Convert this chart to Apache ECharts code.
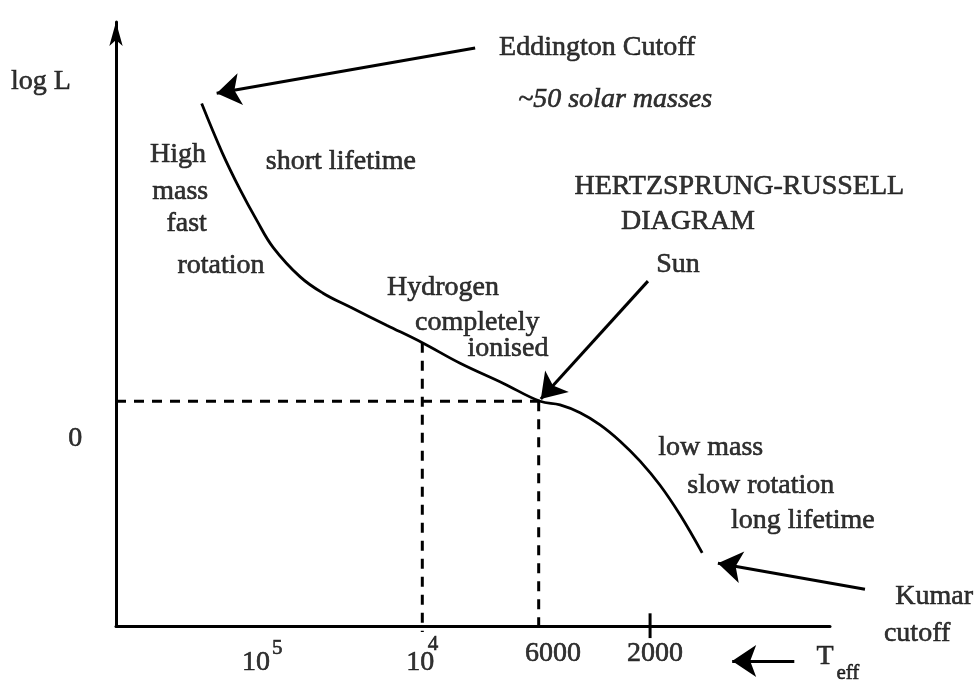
<!DOCTYPE html>
<html>
<head>
<meta charset="utf-8">
<script src="https://cdn.jsdelivr.net/npm/echarts@6/dist/echarts.min.js"></script>
<style>
  html, body { margin: 0; background: #fff; }
  #chart { width: 978px; height: 687px; }
</style>
</head>
<body>
<div id="chart"></div>
<script>
// schematic units: x 0..100 along the Teff axis, y 0..100 along log L
var trackX = [12.0, 14.9, 17.4, 19.7, 22.0, 25.8, 29.0, 32.8, 37.9, 42.9, 48.2, 54.2, 59.4, 62.2, 65.0, 67.8, 70.6, 73.4, 76.2, 79.0, 82.1];
var trackY = [86.5, 78.3, 72.2, 67.2, 62.7, 57.8, 55.1, 52.8, 49.8, 46.9, 43.5, 40.2, 37.2, 36.6, 35.3, 33.3, 30.6, 27.3, 23.3, 18.4, 12.1];

// dashed guides (sun and hydrogen ionisation)
var sunLine = [[0, 37.2], [59.4, 37.2]];
var sunDrop = [[59.2, 37.2], [59.2, 0]];
var hydrogenDrop = [[42.9, 46.9], [42.9, -1]];
var tick2000 = [[74.8, 2.1], [74.8, -2.0]];

// arrows: [start, tip]
var arrows = [
  [[50.3, 95.7], [14.1, 88.2]],   // Eddington cutoff
  [[74.5, 57.1], [59.5, 37.6]],   // Sun
  [[104.9, 6.1], [84.3, 10.4]],   // Kumar cutoff
  [[95.0, -5.8], [86.3, -5.8]]    // Teff direction
];

// text labels [x, y, text]
var notes = [
  [-10.5, 90.1, 'log L'],
  [67.4, 95.7, 'Eddington Cutoff'],
  [8.7, 78.0, 'High'],
  [9.0, 71.9, 'mass'],
  [9.9, 66.6, 'fast'],
  [14.7, 59.6, 'rotation'],
  [31.5, 76.8, 'short lifetime'],
  [87.3, 72.7, 'HERTZSPRUNG-RUSSELL'],
  [80.1, 66.9, 'DIAGRAM'],
  [78.7, 59.8, 'Sun'],
  [45.8, 56.0, 'Hydrogen'],
  [50.6, 50.2, 'completely'],
  [54.9, 45.9, 'ionised'],
  [-5.7, 31.1, '0'],
  [83.3, 29.5, 'low mass'],
  [90.3, 23.3, 'slow rotation'],
  [96.2, 17.5, 'long lifetime'],
  [114.6, 4.8, 'Kumar'],
  [112.2, -1.2, 'cutoff'],
  [19.6, -6.1, '10'],
  [42.6, -6.1, '10'],
  [61.2, -4.5, '6000'],
  [75.5, -4.5, '2000'],
  [99.3, -5.0, 'T']
];
var italicNotes = [[69.9, 87.1, '~50 solar masses']];
var smallNotes = [
  [22.6, -3.8, '5'],
  [44.4, -3.1, '4'],
  [102.5, -7.8, 'eff']
];

var chart = echarts.init(document.getElementById('chart'));

var serif = 'Liberation Serif';

function textSeries(list, size, style) {
  return {
    type: 'scatter',
    clip: false,
    silent: true,
    symbolSize: 1,
    itemStyle: { color: 'rgba(0,0,0,0)' },
    label: {
      show: true,
      position: 'inside',
      formatter: function (p) { return p.value[2]; },
      fontFamily: serif,
      fontSize: size,
      fontStyle: style || 'normal',
      color: '#000',
      textBorderColor: '#000',
      textBorderWidth: 0.6
    },
    data: list
  };
}

function segment(points, type) {
  return {
    type: 'line',
    silent: true,
    showSymbol: false,
    symbol: 'none',
    clip: false,
    lineStyle: { color: '#000', width: 3, type: type },
    data: points
  };
}

var track = trackX.map(function (x, i) { return [x, trackY[i]]; });

var option = {
  animation: false,
  backgroundColor: '#fff',
  grid: { left: 116, right: 148, top: 22, bottom: 61 },
  xAxis: {
    type: 'value',
    min: 0,
    max: 100,
    axisLine: { lineStyle: { color: '#000', width: 3 } },
    axisTick: { show: false },
    axisLabel: { show: false },
    splitLine: { show: false }
  },
  yAxis: {
    type: 'value',
    min: 0,
    max: 100,
    axisLine: {
      lineStyle: { color: '#000', width: 3 },
      symbol: ['none', 'arrow'],
      symbolSize: [10, 24]
    },
    axisTick: { show: false },
    axisLabel: { show: false },
    splitLine: { show: false }
  },
  series: [
    {
      type: 'line',
      silent: true,
      showSymbol: false,
      symbol: 'none',
      smooth: 0.4,
      lineStyle: { color: '#000', width: 2.8 },
      data: track
    },
    segment(sunLine, [10, 8]),
    segment(sunDrop, [10, 8]),
    segment(hydrogenDrop, [10, 8]),
    segment(tick2000, 'solid'),
    {
      type: 'lines',
      coordinateSystem: 'cartesian2d',
      silent: true,
      clip: false,
      symbol: ['none', 'arrow'],
      symbolSize: [7, 24],
      lineStyle: { color: '#000', width: 3, opacity: 1 },
      data: arrows.map(function (a) { return { coords: a }; })
    },
    textSeries(notes, 28),
    textSeries(italicNotes, 28, 'italic'),
    textSeries(smallNotes, 21)
  ]
};

chart.setOption(option);
</script>
</body>
</html>
